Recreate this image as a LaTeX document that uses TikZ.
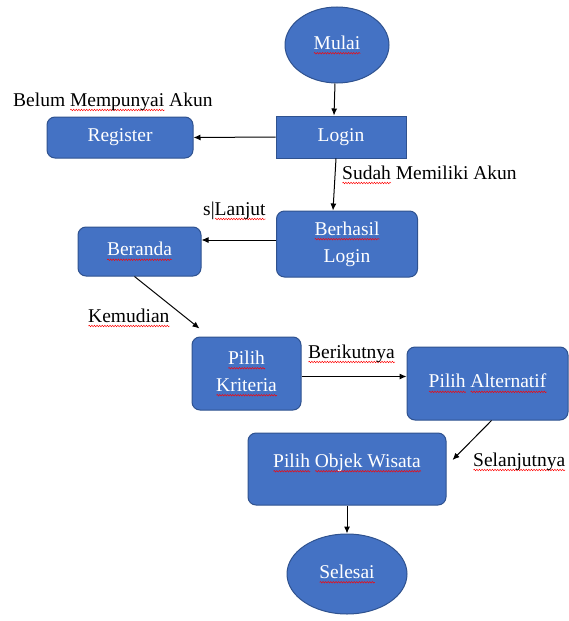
\documentclass[tikz,border=0pt]{standalone}
\usepackage{fontspec}
\setmainfont{Liberation Serif}
\usepackage{tikz}
\usetikzlibrary{shapes.geometric,decorations.pathmorphing,arrows.meta}

\definecolor{boxblue}{RGB}{68,114,196}
\definecolor{boxline}{RGB}{47,82,143}

% red wavy underline, as the spell checker draws it
\newlength\sqlen
\newcommand\sq[1]{\settowidth\sqlen{#1}\rlap{\tikz[baseline=0pt]\draw[red,fill=none,sharp corners,line width=0.45pt,decorate,decoration={snake,amplitude=0.8pt,segment length=2.6pt}] (0pt,-4pt) -- (\sqlen,-4pt);}#1}

\begin{document}
\begin{tikzpicture}[x=1pt,y=-1pt,>={Latex[length=7pt,width=6pt]},line width=1pt,
    font=\fontsize{19.5}{27}\selectfont,
    blok/.style={draw=boxline,fill=boxblue,text=white,line width=1pt,rounded corners=8pt,align=center},
    bulat/.style={ellipse,draw=boxline,fill=boxblue,text=white,line width=1pt,inner sep=0pt},
    teks/.style={anchor=base west,inner sep=0pt}]

      \useasboundingbox (0,0) rectangle (569,621);

      \node[bulat, minimum width=104pt, minimum height=76pt] (mulai) at (337,45) {\sq{Mulai}};
      \node[blok, rounded corners=0pt, minimum width=130pt, minimum height=42pt] (login) at (341,137) {Login};
      \node[blok, minimum width=146pt, minimum height=41pt] (register) at (120,137.5) {Register};
      \node[blok, minimum width=141pt, minimum height=66pt] (berhasil) at (347,244) {\sq{Berhasil}\\Login};
      \node[blok, minimum width=123pt, minimum height=49pt] (beranda) at (139.5,251.5) {\sq{Beranda}};
      \node[blok, minimum width=109pt, minimum height=73pt] (kriteria) at (246.5,373.5) {\sq{Pilih}\\\sq{Kriteria}};
      \node[blok, minimum width=161pt, minimum height=73pt] (alternatif) at (487.5,383.5) {\sq{Pilih} \sq{Alternatif}};
      \node[blok, minimum width=198pt, minimum height=72pt, text depth=17pt] (objek) at (347,469) {\sq{Pilih} \sq{Objek Wisata}};
      \node[bulat, minimum width=120pt, minimum height=80pt] (selesai) at (347,574) {\sq{Selesai}};

      \draw[->] ([xshift=-2pt]mulai.south) -- ([xshift=-7pt]login.north);
      \draw[->] (login.west) -- (register.east);
      \draw[->] ([xshift=-5pt]login.south) -- ([xshift=-14pt]berhasil.north);
      \draw[->] ([yshift=4pt]berhasil.west) -- ([yshift=4pt]berhasil.west -| beranda.east);
      \draw[->] ([xshift=-5pt]beranda.south) -- ([shift={(8pt,8pt)}]kriteria.north west);
      \draw[->] ([yshift=-3pt]kriteria.east) -- ([yshift=-3pt]kriteria.east -| alternatif.west);
      \draw[->] ([xshift=4pt]alternatif.south) -- ([shift={(6pt,9pt)}]objek.east);
      \draw[->] (objek.south) -- (selesai.north);

	\node[teks] (belum) at (13,106) {Belum \sq{Mempunyai} Akun};
	\node[teks] (sudah) at (342,179) {\sq{Sudah} Memiliki Akun};
	\node[teks] (lanjut) at (203,215) {s|\sq{Lanjut}};
	\node[teks] (kemudian) at (88,322) {\sq{Kemudian}};
	\node[teks] (berikut) at (308,358) {\sq{Berikutnya}};
	\node[teks] (selanjut) at (473,466) {\sq{Selanjutnya}};
    \end{tikzpicture}
\end{document}
